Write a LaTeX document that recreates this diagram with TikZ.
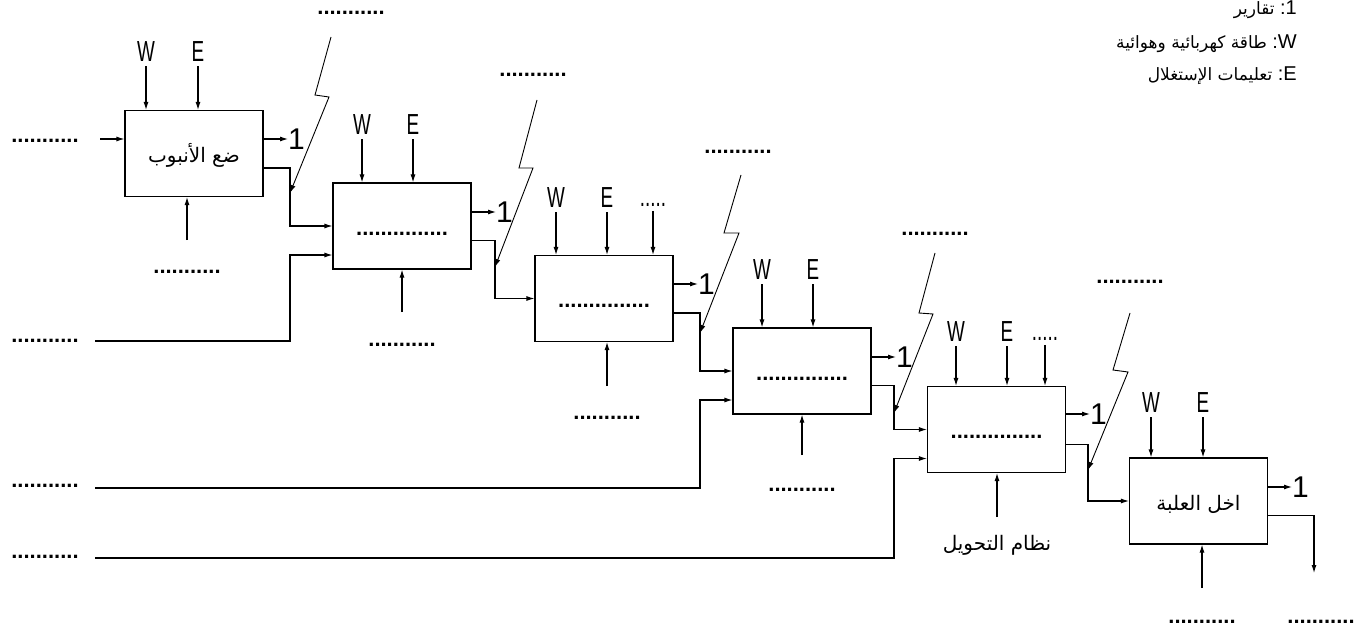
\documentclass[tikz,border=0pt]{standalone}
\usepackage{fontspec}
\setmainfont{Liberation Sans}
\newfontfamily\narrowfont[FakeStretch=0.65]{Liberation Sans}
\newfontfamily\arabicfont[Script=Arabic]{DejaVu Sans}
\TeXXeTstate=1
\usetikzlibrary{arrows.meta,positioning,calc}
\newcommand{\artext}[1]{{\arabicfont\beginR#1\endR}}
\tikzset{
  stage/.style={draw, line width=1.1pt, minimum width=138pt, minimum height=86pt, inner sep=0pt, text height=18pt, text depth=0pt, font=\bfseries\fontsize{22}{24}\selectfont},
  arstage/.style={stage, font=\arabicfont\fontsize{20}{22}\selectfont},
  ctrl/.style={inner xsep=0pt, inner ysep=4pt, font=\narrowfont\fontsize{29}{30}\selectfont},
  dots/.style={inner sep=0pt, font=\bfseries\fontsize{22}{24}\selectfont},
  outlbl/.style={anchor=west, inner sep=0pt, font=\fontsize{30}{32}\selectfont},
  arlbl/.style={inner sep=0pt, font=\arabicfont\fontsize{20}{22}\selectfont},
  legend/.style={anchor=base east, inner sep=0pt, font=\fontsize{20}{22}\selectfont},
  line/.style={-{Latex[length=8pt,width=5pt]}, line width=1.1pt},
  bolt/.style={-{Latex[length=8pt,width=5pt]}, line width=0.9pt}
}

\begin{document}
\begin{tikzpicture}[x=1pt, y=-1pt]
  \useasboundingbox (0,0) rectangle (1364,631);

  % legend
  \node[legend] (l1) at (1297,15) {{\fontsize{17}{20}\selectfont\artext{تقارير}} :1};
  \node[legend] (l2) at (1297,49) {{\fontsize{17}{20}\selectfont\artext{طاقة كهربائية وهوائية}} :W};
  \node[legend] (l3) at (1297,81) {{\fontsize{17}{20}\selectfont\artext{تعليمات الإستغلال}} :E};

  % stages
  \node[arstage] (b1) at (194,153.5) {\beginR ضع الأنبوب\endR};
  \node[stage] (b2) at (402,226) {...............};
  \node[stage] (b3) at (604,298.5) {...............};
  \node[stage] (b4) at (802,371) {...............};
  \node[stage] (b5) at (996.5,429.5) {...............};
  \node[arstage] (b6) at (1198.5,501) {\beginR اخل العلبة\endR};

  % junctions on the links
  \coordinate (j1) at (290,193);
  \coordinate (j2) at (495,267);
  \coordinate (j3) at (700,333);
  \coordinate (j4) at (894,413);
  \coordinate (j5) at (1088,470);

  % W / E inputs
  \node[ctrl] (w1) at (146,52) {W};
  \node[ctrl] (e1) at (198,52) {E};
  \node[ctrl] (w2) at (362,125) {W};
  \node[ctrl] (e2) at (413,125) {E};
  \node[ctrl] (w3) at (556,198) {W};
  \node[ctrl] (e3) at (607,198) {E};
  \node[ctrl] (x3) at (653,205) {.....};
  \node[ctrl] (w4) at (762,270) {W};
  \node[ctrl] (e4) at (813,270) {E};
  \node[ctrl] (w5) at (956,332) {W};
  \node[ctrl] (e5) at (1007,332) {E};
  \node[ctrl] (x5) at (1045,339) {.....};
  \node[ctrl] (w6) at (1151,403) {W};
  \node[ctrl] (e6) at (1203,403) {E};
  \draw[line] (w1) -- (w1 |- b1.north);
  \draw[line] (e1) -- (e1 |- b1.north);
  \draw[line] (w2) -- (w2 |- b2.north);
  \draw[line] (e2) -- (e2 |- b2.north);
  \draw[line] (w3) -- (w3 |- b3.north);
  \draw[line] (e3) -- (e3 |- b3.north);
  \draw[line] (x3) -- (x3 |- b3.north);
  \draw[line] (w4) -- (w4 |- b4.north);
  \draw[line] (e4) -- (e4 |- b4.north);
  \draw[line] (w5) -- (w5 |- b5.north);
  \draw[line] (e5) -- (e5 |- b5.north);
  \draw[line] (x5) -- (x5 |- b5.north);
  \draw[line] (w6) -- (w6 |- b6.north);
  \draw[line] (e6) -- (e6 |- b6.north);

  % reports
  \node[outlbl] (r1) at (288,139) {1};
  \node[outlbl] (r2) at (496,212) {1};
  \node[outlbl] (r3) at (698,284) {1};
  \node[outlbl] (r4) at (896,357) {1};
  \node[outlbl] (r5) at (1090,414) {1};
  \node[outlbl] (r6) at (1292,487) {1};
  \draw[line] (r1 -| b1.east) -- (r1);
  \draw[line] (r2 -| b2.east) -- (r2);
  \draw[line] (r3 -| b3.east) -- (r3);
  \draw[line] (r4 -| b4.east) -- (r4);
  \draw[line] (r5 -| b5.east) -- (r5);
  \draw[line] (r6 -| b6.east) -- (r6);

  % product flow
  \coordinate (b1o) at ($(b1.north east)!.667!(b1.south east)$);
  \coordinate (b2o) at ($(b2.north east)!.667!(b2.south east)$);
  \coordinate (b3o) at ($(b3.north east)!.667!(b3.south east)$);
  \coordinate (b4o) at ($(b4.north east)!.667!(b4.south east)$);
  \coordinate (b5o) at ($(b5.north east)!.667!(b5.south east)$);
  \coordinate (b6o) at ($(b6.north east)!.667!(b6.south east)$);
  \coordinate (t6) at (1314,573);
  \draw[line] (b1o) -| (j1) |- (b2.west);
  \draw[line] (b2o) -| (j2) |- (b3.west);
  \draw[line] (b3o) -| (j3) |- (b4.west);
  \draw[line] (b4o) -| (j4) |- (b5.west);
  \draw[line] (b5o) -| (j5) |- (b6.west);
  \draw[line] (b6o) -| (t6);

  % inputs from the left
  \node[dots] (i1) at (45,141) {...........};
  \node[dots] (i2) at (45,341) {...........};
  \node[dots] (i4) at (45,486) {...........};
  \node[dots] (i5) at (45,557) {...........};
  \coordinate (s1) at (100,139);
  \coordinate (s2) at (95,341);
  \coordinate (s4) at (95,488);
  \coordinate (s5) at (95,558);
  \coordinate (p2) at ($(b2.north west)!.833!(b2.south west)$);
  \coordinate (p4) at ($(b4.north west)!.833!(b4.south west)$);
  \coordinate (p5) at ($(b5.north west)!.833!(b5.south west)$);
  \draw[line] (s1) -- (s1 -| b1.west);
  \draw[line] (s2) -| (p2 -| j1) -- (p2);
  \draw[line] (s4) -| (p4 -| j3) -- (p4);
  \draw[line] (s5) -| (p5 -| j4) -- (p5);

  % means from below
  \coordinate (u1) at (187,240);
  \coordinate (u2) at (402,312);
  \coordinate (u3) at (607,386);
  \coordinate (u4) at (802,455);
  \coordinate (u5) at (997,517);
  \coordinate (u6) at (1202,588);
  \draw[line] (u1) -- (u1 |- b1.south);
  \draw[line] (u2) -- (u2 |- b2.south);
  \draw[line] (u3) -- (u3 |- b3.south);
  \draw[line] (u4) -- (u4 |- b4.south);
  \draw[line] (u5) -- (u5 |- b5.south);
  \draw[line] (u6) -- (u6 |- b6.south);
  \node[dots] (f1) at (187,272) {...........};
  \node[dots] (f2) at (402,345) {...........};
  \node[dots] (f3) at (607,418) {...........};
  \node[dots] (f4) at (802,490) {...........};
  \node[arlbl] (f5) at (997,545) {\beginR نظام التحويل\endR};
  \node[dots] (f6) at (1202,622) {...........};
  \node[dots] (f7) at (1321,622) {...........};

  % disturbances
  \node[dots] (d1) at (351,13) {...........};
  \node[dots] (d2) at (533,75) {...........};
  \node[dots] (d3) at (738,152) {...........};
  \node[dots] (d4) at (935,234) {...........};
  \node[dots] (d5) at (1130,282) {...........};
  \coordinate (z1) at (331,37);
  \coordinate (z2) at (537,100);
  \coordinate (z3) at (741,175);
  \coordinate (z4) at (935,253);
  \coordinate (z5) at (1130,313);
  \draw[bolt] (z1) -- (315,95) -- (329,97) -- (j1);
  \draw[bolt] (z2) -- (519,168) -- (533,168) -- (j2);
  \draw[bolt] (z3) -- (724,233) -- (739,233) -- (j3);
  \draw[bolt] (z4) -- (919,313) -- (933,314) -- (j4);
  \draw[bolt] (z5) -- (1113,370) -- (1128,372) -- (j5);
\end{tikzpicture}
\end{document}
